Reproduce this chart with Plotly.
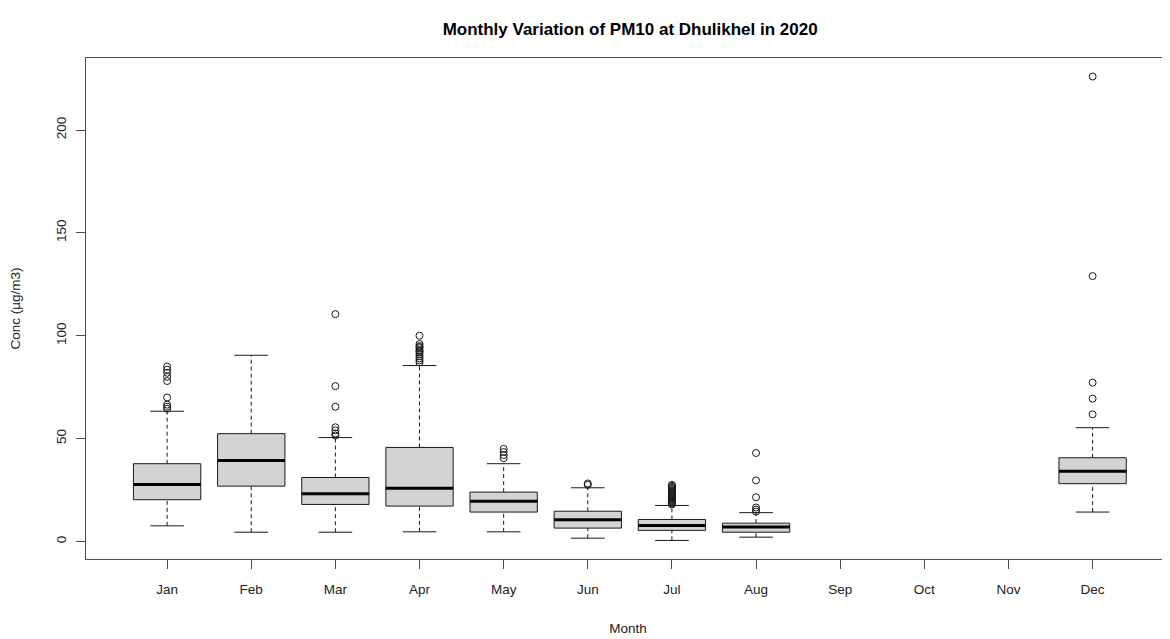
import plotly.graph_objects as go

months = ["Jan", "Feb", "Mar", "Apr", "May", "Jun", "Jul", "Aug", "Sep", "Oct", "Nov", "Dec"]
q1 = [20.3, 26.9, 18.0, 17.2, 14.3, 6.5, 5.4, 4.5, None, None, None, 28.1]
median = [27.7, 39.4, 23.2, 25.9, 19.5, 10.5, 7.8, 7.0, None, None, None, 34.1]
q3 = [37.8, 52.4, 31.1, 45.7, 24.0, 14.7, 10.7, 8.9, None, None, None, 40.7]
lower_whisker = [7.6, 4.5, 4.5, 4.7, 4.7, 1.6, 0.5, 2.1, None, None, None, 14.3]
upper_whisker = [63.3, 90.5, 50.5, 85.5, 37.8, 26.1, 17.5, 14.0, None, None, None, 55.3]
outliers = {
    "Jan": [64.5, 65.5, 66.5, 70.0, 78.0, 80.0, 82.0, 83.5, 85.0],
    "Feb": [],
    "Mar": [51.5, 52.5, 54.0, 55.5, 65.5, 75.5, 110.5],
    "Apr": [87.0, 88.0, 89.0, 90.0, 91.0, 92.0, 92.5, 93.0, 94.0, 94.5, 95.0, 96.0, 100.0],
    "May": [40.5, 42.0, 43.5, 45.0],
    "Jun": [27.5, 28.2],
    "Jul": [18.0, 18.5, 19.0, 19.5, 20.0, 20.5, 21.0, 21.5, 22.0, 22.5, 23.0, 23.5,
            24.0, 24.5, 25.0, 25.5, 26.0, 26.5, 27.0, 27.5],
    "Aug": [14.5, 15.5, 16.5, 21.5, 29.7, 43.0],
    "Sep": [],
    "Oct": [],
    "Nov": [],
    "Dec": [61.8, 69.4, 77.2, 129.0, 226.0],
}

title_text = "Monthly Variation of PM10 at Dhulikhel in 2020"
x_title = "Month"
y_title = "Conc (\u00b5g/m3)"

BOX_HALF = 0.4
CAP_HALF = 0.2
FONT = "Liberation Sans, Arial, sans-serif"
INK = "#1a1a1a"
FRAME = "#4d4d4d"

fig = go.Figure()

# dashed whiskers and caps
wx, wy = [], []
cx, cy = [], []
for i, m in enumerate(months):
    if q1[i] is None:
        continue
    pos = i + 1
    wx += [pos, pos, None, pos, pos, None]
    wy += [lower_whisker[i], q1[i], None, q3[i], upper_whisker[i], None]
    cx += [pos - CAP_HALF, pos + CAP_HALF, None, pos - CAP_HALF, pos + CAP_HALF, None]
    cy += [lower_whisker[i], lower_whisker[i], None, upper_whisker[i], upper_whisker[i], None]

fig.add_trace(go.Scatter(x=wx, y=wy, mode="lines",
                         line=dict(color=INK, width=1, dash="4px,3px"),
                         showlegend=False, hoverinfo="skip"))
fig.add_trace(go.Scatter(x=cx, y=cy, mode="lines",
                         line=dict(color=INK, width=1),
                         showlegend=False, hoverinfo="skip"))

# boxes
for i, m in enumerate(months):
    if q1[i] is None:
        continue
    pos = i + 1
    fig.add_trace(go.Scatter(
        x=[pos - BOX_HALF, pos + BOX_HALF, pos + BOX_HALF, pos - BOX_HALF, pos - BOX_HALF],
        y=[q1[i], q1[i], q3[i], q3[i], q1[i]],
        mode="lines", fill="toself", fillcolor="#d3d3d3",
        line=dict(color=INK, width=1),
        name=m, showlegend=False,
        hovertemplate=f"{m}<br>Q1 {q1[i]}<br>Median {median[i]}<br>Q3 {q3[i]}<extra></extra>"))

# medians
mx, my = [], []
for i, m in enumerate(months):
    if median[i] is None:
        continue
    pos = i + 1
    mx += [pos - BOX_HALF, pos + BOX_HALF, None]
    my += [median[i], median[i], None]
fig.add_trace(go.Scatter(x=mx, y=my, mode="lines",
                         line=dict(color="#000000", width=3),
                         showlegend=False, hoverinfo="skip"))

# outliers
ox, oy = [], []
for i, m in enumerate(months):
    for v in outliers[m]:
        ox.append(i + 1)
        oy.append(v)
fig.add_trace(go.Scatter(x=ox, y=oy, mode="markers",
                         marker=dict(symbol="circle-open", size=7, color=INK,
                                     line=dict(width=1, color=INK)),
                         showlegend=False))

# the page body has an 8px margin, so the figure is sized to fit the window
fig.update_layout(
    width=1162, height=631,
    margin=dict(l=78, r=0, t=50, b=80),
    paper_bgcolor="white", plot_bgcolor="white",
    font=dict(family=FONT, color="#222222", size=13.5),
    title=dict(text=title_text, x=0.502, xref="paper", xanchor="center",
               y=1 - 21 / 631, yref="container", yanchor="middle",
               font=dict(family=FONT, size=17, color="#000000", weight=700)),
)
fig.update_xaxes(
    range=[0.036, 12.92],
    tickmode="array", tickvals=list(range(1, 13)), ticktext=months,
    ticks="outside", ticklen=9, tickcolor=FRAME, tickwidth=1,
    ticklabelstandoff=9,
    showline=True, linecolor=FRAME, linewidth=1, mirror=True,
    showgrid=False, zeroline=False,
    tickfont=dict(size=13.5),
    title=dict(text=x_title, font=dict(size=13.5), standoff=27),
)
fig.update_yaxes(
    range=[-8.52, 235.0],
    tickmode="array", tickvals=[0, 50, 100, 150, 200],
    ticks="outside", ticklen=9, tickcolor=FRAME, tickwidth=1, tickangle=-90,
    ticklabelstandoff=5,
    showline=True, linecolor=FRAME, linewidth=1, mirror=False,
    showgrid=False, zeroline=False,
    tickfont=dict(size=13.5),
    title=dict(text=y_title, font=dict(size=13.5), standoff=29),
)

fig.write_html("out.html")
